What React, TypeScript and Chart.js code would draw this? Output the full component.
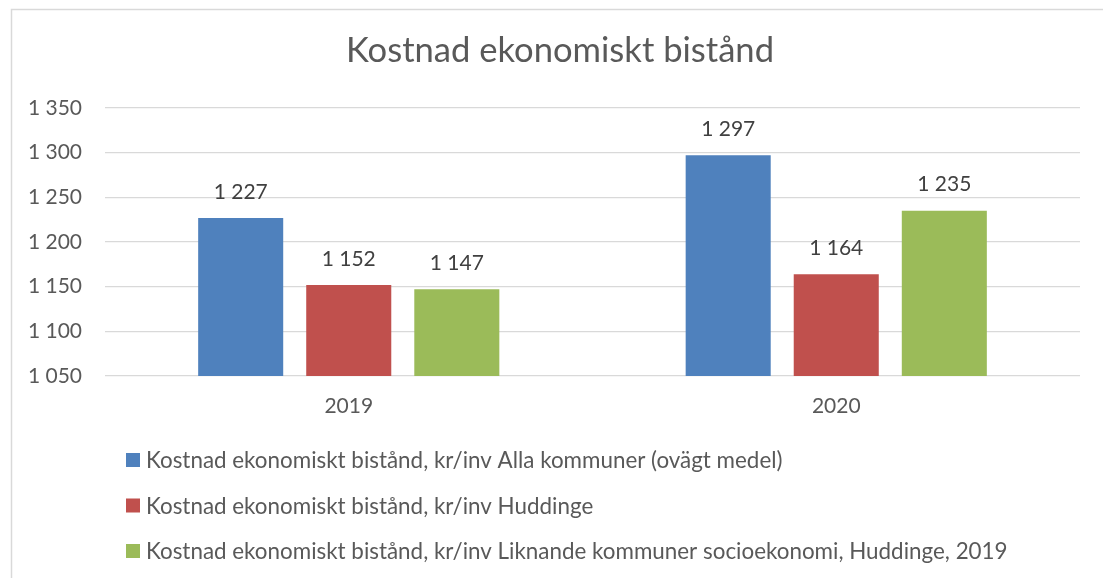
import React, { useEffect, useRef } from "react";
import { Chart, registerables } from "chart.js";

Chart.register(...registerables);

const chartTitle = "Kostnad ekonomiskt bistånd";
const categories = ["2019", "2020"];
const seriesNames = [
  "Kostnad ekonomiskt bistånd, kr/inv Alla kommuner (ovägt medel)",
  "Kostnad ekonomiskt bistånd, kr/inv Huddinge",
  "Kostnad ekonomiskt bistånd, kr/inv Liknande kommuner socioekonomi, Huddinge, 2019",
];
const allaKommuner = [1227, 1297];
const huddinge = [1152, 1164];
const liknandeKommuner = [1147, 1235];
const seriesColors = ["#4F81BD", "#C0504D", "#9BBB59"];
const yMin = 1050;
const yMax = 1350;
const yStep = 50;

const FONT = "Lato, 'Open Sans', sans-serif";
const TEXT = "#595959";

const fmt = (v: number) => String(v).replace(/\B(?=(\d{3})+(?!\d))/g, " ");

const decorPlugin = {
  id: "decor",
  beforeDraw(chart: any) {
    const ctx = chart.ctx;
    ctx.save();
    ctx.fillStyle = "#ffffff";
    ctx.fillRect(0, 0, chart.width, chart.height);
    ctx.strokeStyle = "#D9D9D9";
    ctx.lineWidth = 1.5;
    ctx.beginPath();
    ctx.moveTo(11.5, chart.height);
    ctx.lineTo(11.5, 9.5);
    ctx.lineTo(chart.width, 9.5);
    ctx.stroke();
    // title
    ctx.font = `34.6px ${FONT}`;
    ctx.fillStyle = TEXT;
    ctx.textAlign = "center";
    ctx.textBaseline = "middle";
    ctx.fillText(chartTitle, 560, 51);
    ctx.restore();
  },
  afterDatasetsDraw(chart: any) {
    const ctx = chart.ctx;
    ctx.save();
    ctx.font = `21px ${FONT}`;
    ctx.fillStyle = "#404040";
    ctx.textAlign = "center";
    ctx.textBaseline = "middle";
    chart.data.datasets.forEach((ds: any, i: number) => {
      const meta = chart.getDatasetMeta(i);
      meta.data.forEach((bar: any, j: number) => {
        ctx.fillText(fmt(ds.data[j]), bar.x, bar.y - 26);
      });
    });
    ctx.restore();
  },
  afterDraw(chart: any) {
    const ctx = chart.ctx;
    const area = chart.chartArea;
    ctx.save();
    ctx.font = `22.4px ${FONT}`;
    ctx.textBaseline = "middle";
    ctx.textAlign = "left";
    chart.data.datasets.forEach((ds: any, i: number) => {
      const cy = area.bottom + 84 + i * 45.5;
      ctx.fillStyle = ds.backgroundColor;
      ctx.fillRect(126, cy - 7, 14, 14);
      ctx.fillStyle = TEXT;
      ctx.fillText(ds.label, 146, cy + 1);
    });
    ctx.restore();
  },
};

export default function App() {
  const ref = useRef<HTMLCanvasElement | null>(null);
  useEffect(() => {
    if (!ref.current) return;
    const seriesValues = [allaKommuner, huddinge, liknandeKommuner];
    const chart = new Chart(ref.current, {
      type: "bar",
      data: {
        labels: categories,
        datasets: seriesNames.map((name, i) => ({
          label: name,
          data: seriesValues[i],
          backgroundColor: seriesColors[i],
          borderWidth: 0,
          categoryPercentage: 0.665,
          barPercentage: 0.787,
        })),
      },
      options: {
        responsive: false,
        animation: false,
        layout: { padding: { left: 0, right: 23, top: 108, bottom: 152 } },
        plugins: {
          legend: { display: false },
          tooltip: { enabled: false },
          title: { display: false },
        },
        scales: {
          x: {
            grid: { display: false, drawTicks: false },
            border: { display: false },
            ticks: { color: TEXT, font: { family: FONT, size: 21 }, padding: 18 },
            afterFit: (s: any) => {
              s.height = 50;
            },
          },
          y: {
            min: yMin,
            max: yMax,
            grid: { color: "#D9D9D9", lineWidth: 1.3, drawTicks: false },
            border: { display: false },
            ticks: {
              stepSize: yStep,
              color: TEXT,
              font: { family: FONT, size: 21 },
              padding: 23,
              callback: (v: any) => fmt(Number(v)),
            },
            afterFit: (s: any) => {
              s.width = 105;
            },
          },
        },
      },
      plugins: [decorPlugin],
    });
    return () => chart.destroy();
  }, []);
  return (
    <div style={{ position: "absolute", left: 0, top: 0, width: 1103, height: 578 }}>
      <canvas ref={ref} width={1103} height={578} style={{ display: "block" }} />
    </div>
  );
}
